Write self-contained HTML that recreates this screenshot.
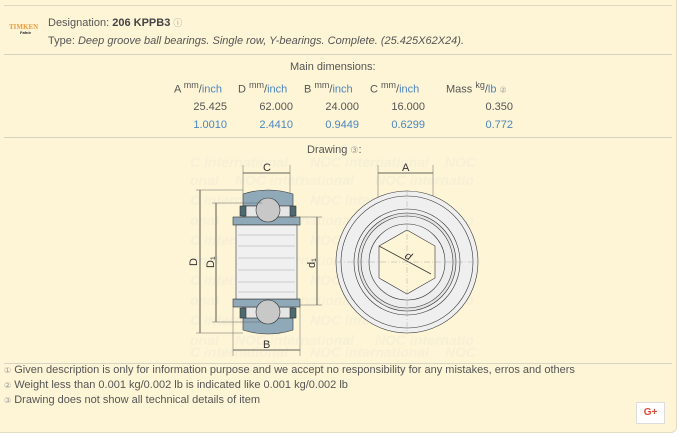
<!DOCTYPE html>
<html><head><meta charset="utf-8"><style>
body{margin:0;width:680px;height:437px;background:#fff;position:relative;overflow:hidden;font-family:"Liberation Sans",sans-serif;color:#555}
.p{position:absolute;left:0;top:0;width:676px;height:432px;background:#fdf5d6;border-bottom-right-radius:6px;border-right:1px solid #e5dcc0;border-bottom:1px solid #e5dcc0}
.t{position:absolute;font-size:11px;white-space:nowrap}
.hr{position:absolute;left:4px;width:668px;height:1px;background:#d8d4c4}
.b{color:#4a86c0}
sup{font-size:9px}
.r{text-align:right;width:50px}
</style></head><body>
<div class="p"></div>
<div class="hr" style="top:5px;background:#ddd6c0"></div>
<div class="t" style="left:9px;top:23px;font-size:7px;font-weight:bold;color:#f29a38;font-family:'Liberation Serif',serif">TIMKEN</div>
<div class="t" style="left:20px;top:30px;font-size:4px;font-weight:bold;color:#222">Fafnir</div>
<div class="t" style="left:48px;top:16px">Designation: <b style="color:#444">206 KPPB3</b> <span style="font-size:9px;color:#999">ⓘ</span></div>
<div class="t" style="left:48px;top:35px">Type: <i>Deep groove ball bearings. Single row, Y-bearings. Complete. (25.425X62X24).</i></div>
<div class="hr" style="top:54px"></div>
<div class="t" style="left:290px;top:61px">Main dimensions:</div>
<div class="t" style="left:174px;top:80px">A <sup>mm</sup>/<span class="b">inch</span></div>
<div class="t" style="left:238px;top:80px">D <sup>mm</sup>/<span class="b">inch</span></div>
<div class="t" style="left:304px;top:80px">B <sup>mm</sup>/<span class="b">inch</span></div>
<div class="t" style="left:370px;top:80px">C <sup>mm</sup>/<span class="b">inch</span></div>
<div class="t" style="left:446px;top:80px">Mass <sup>kg</sup>/<span class="b">lb</span> <span style="font-size:8px;color:#999">②</span></div>
<div class="t r" style="left:177px;top:101px">25.425</div>
<div class="t r" style="left:243px;top:101px">62.000</div>
<div class="t r" style="left:309px;top:101px">24.000</div>
<div class="t r" style="left:375px;top:101px">16.000</div>
<div class="t r" style="left:463px;top:101px">0.350</div>
<div class="t r b" style="left:177px;top:119px">1.0010</div>
<div class="t r b" style="left:243px;top:119px">2.4410</div>
<div class="t r b" style="left:309px;top:119px">0.9449</div>
<div class="t r b" style="left:375px;top:119px">0.6299</div>
<div class="t r b" style="left:463px;top:119px">0.772</div>
<div class="hr" style="top:137px"></div>
<div class="t" style="left:307px;top:144px">Drawing <span style="font-size:9px;color:#999">③</span>:</div>
<svg style="position:absolute;left:0;top:0" width="680" height="437">
<g font-family="Liberation Sans" font-style="italic" font-weight="bold" font-size="14" fill="#f7efd6">
<text x="190" y="167">C international</text><text x="310" y="167">NOC international</text><text x="445" y="167">NOC</text>
<text x="190" y="185">onal</text><text x="235" y="185">NOC international</text><text x="375" y="185">NOC internatio</text>
<text x="190" y="205">C international</text><text x="310" y="205">NOC international</text>
<text x="190" y="225">onal</text><text x="235" y="225">NOC international</text><text x="375" y="225">NOC internatio</text>
<text x="190" y="245">C international</text><text x="310" y="245">NOC international</text>
<text x="190" y="265">onal</text><text x="235" y="265">NOC international</text><text x="375" y="265">NOC internatio</text>
<text x="190" y="285">C international</text><text x="310" y="285">NOC international</text>
<text x="190" y="305">onal</text><text x="235" y="305">NOC international</text><text x="375" y="305">NOC internatio</text>
<text x="190" y="325">C international</text><text x="310" y="325">NOC international</text>
<text x="190" y="345">onal</text><text x="235" y="345">NOC international</text><text x="375" y="345">NOC internatio</text>
<text x="190" y="357">C international</text><text x="310" y="357">NOC international</text><text x="445" y="357">NOC</text>
</g>
<g stroke="#333" stroke-width="0.6" fill="none">
<path d="M243 194 Q268 186 293 194 L293 206 L243 206Z" fill="#8fa9b8"/>
<path d="M243 330 Q268 338 293 330 L293 318 L243 318Z" fill="#8fa9b8"/>
<rect x="243" y="206" width="50" height="11" fill="#e6e6e6"/>
<rect x="243" y="307" width="50" height="11" fill="#e6e6e6"/>
<rect x="233" y="217" width="67" height="8" fill="#8fa9b8"/>
<rect x="233" y="299" width="67" height="8" fill="#8fa9b8"/>
<rect x="236" y="225" width="61" height="74" fill="#f0f0f0"/>
<path d="M238 235H295M238 246H295M238 258H295M238 270H295M238 282H295M238 292H295" stroke="#aaa"/>
<rect x="240" y="206" width="6" height="10" fill="#4d6a70"/><rect x="290" y="206" width="6" height="10" fill="#4d6a70"/>
<rect x="240" y="308" width="6" height="10" fill="#4d6a70"/><rect x="290" y="308" width="6" height="10" fill="#4d6a70"/>
<circle cx="268" cy="210" r="12" fill="#c8c8c8"/><circle cx="268" cy="312" r="12" fill="#c8c8c8"/>
<path d="M200 190V333M216 203V322M317 217V305M243 173H290M233 350H300M378 173H433" stroke-width="0.8"/>
<path d="M196 190H243M196 333H243M212 203H262M212 322H262M300 217H322M300 305H322M243 165V194M290 165V194M233 307V356M300 307V356M378 165V262M433 165V262" stroke="#666" stroke-width="0.5"/>
<circle cx="407" cy="262" r="71" fill="#efefef"/>
<circle cx="407" cy="262" r="66"/>
<circle cx="407" cy="262" r="53"/>
<circle cx="407" cy="262" r="49" fill="#e4e4e4"/>
<circle cx="407" cy="262" r="46" fill="#ededed"/>
<circle cx="407" cy="262" r="38" fill="#f0f0f0"/>
<polygon points="407,230 435,246 435,278 407,294 379,278 379,246" fill="#fdf5d6"/>
<path d="M336 262H478M407 190V334" stroke="#999" stroke-dasharray="6 2 1 2" stroke-width="0.4"/>
<path d="M379 246L431 274" stroke-width="0.8"/>
</g>
<g font-family="Liberation Sans" font-size="11" fill="#333">
<text x="263" y="171">C</text><text x="263" y="348">B</text><text x="402" y="171">A</text>
<text transform="translate(197,266) rotate(-90)">D</text>
<text transform="translate(214,268) rotate(-90)">D₁</text>
<text transform="translate(315,268) rotate(-90)">d₁</text>
<text x="405" y="260" font-style="italic" transform="rotate(30 409 257)">d</text>
</g>
</svg>
<div class="hr" style="top:363px"></div>
<div class="t" style="left:4px;top:364px"><span style="font-size:8px;color:#999">①</span> Given description is only for information purpose and we accept no responsibility for any mistakes, erros and others</div>
<div class="t" style="left:4px;top:379px"><span style="font-size:8px;color:#999">②</span> Weight less than 0.001 kg/0.002 lb is indicated like 0.001 kg/0.002 lb</div>
<div class="t" style="left:4px;top:394px"><span style="font-size:8px;color:#999">③</span> Drawing does not show all technical details of item</div>
<div style="position:absolute;left:636px;top:402px;width:27px;height:20px;background:#fff;border:1px solid #ddd;color:#dd4b39;font-size:10px;font-weight:bold;text-align:center;line-height:20px">G+</div>
</body></html>
